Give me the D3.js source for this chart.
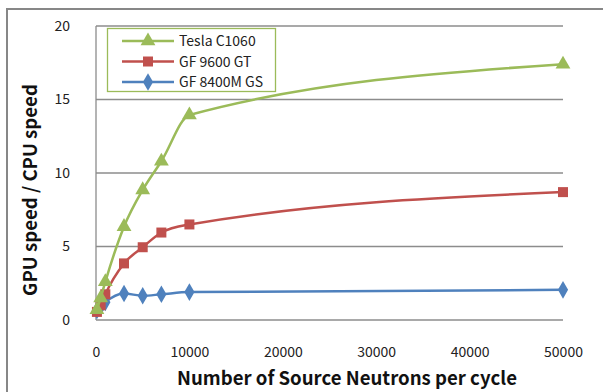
<!DOCTYPE html>
<html>
<head>
<meta charset="utf-8">
<script src="https://cdn.jsdelivr.net/npm/d3@7"></script>
<style>
  body { margin: 0; background: #fff; }
  svg { display: block; font-family: "Noto Sans CJK KR", "Noto Sans", sans-serif; }
</style>
</head>
<body>
<svg width="603" height="392"></svg>
<script>
// source neutrons per cycle
let neutrons = [100, 500, 1000, 3000, 5000, 7000, 10000, 50000]
let tesla = [0.7, 1.5, 2.6, 6.35, 8.85, 10.8, 13.95, 17.4]
let gf9600 = [0.55, 1.0, 1.75, 3.85, 4.95, 5.95, 6.5, 8.7]
let gf8400 = [0.65, 0.9, 1.2, 1.8, 1.65, 1.75, 1.9, 2.05]
let xTicks = [0, 10000, 20000, 30000, 40000, 50000]
let yTicks = [0, 5, 10, 15, 20]
let seriesNames = ["Tesla C1060", "GF 9600 GT", "GF 8400M GS"]

let series = [
    {name: seriesNames[0], vals: tesla, color: "#9bbb59", shape: d3.symbolTriangle, size: 95},
    {name: seriesNames[1], vals: gf9600, color: "#c0504d", shape: d3.symbolSquare, size: 100},
    {name: seriesNames[2], vals: gf8400, color: "#4f81bd", shape: d3.symbolDiamond, size: 90}
]

let svg = d3.select("svg")

// outer chart frame (cut off at right and bottom)
svg.append("rect")
    .attr("x", 7).attr("y", 9)
    .attr("width", 620).attr("height", 420)
    .attr("fill", "white")
    .attr("stroke", "#878787")
    .attr("stroke-width", 2)

let pLeft = 96, pTop = 26, pRight = 563, pBottom = 320

let x = d3.scaleLinear().domain([0, 50000]).range([pLeft, pRight])
let y = d3.scaleLinear().domain([0, 20]).range([pBottom, pTop])

// gridlines
svg.append("g")
    .selectAll("line")
    .data(yTicks)
    .join("line")
    .attr("x1", pLeft).attr("x2", pRight)
    .attr("y1", d => y(d)).attr("y2", d => y(d))
    .attr("stroke", "#8c8c8c")
    .attr("stroke-width", 1.3)

svg.append("line")
    .attr("x1", pLeft).attr("x2", pLeft)
    .attr("y1", pTop).attr("y2", pBottom)
    .attr("stroke", "#8c8c8c")
    .attr("stroke-width", 1.3)

// y axis labels
let yAxis = svg.append("g")
    .attr("transform", "translate(" + pLeft + ",0)")
    .call(d3.axisLeft(y).tickValues(yTicks).tickSize(0).tickPadding(26))
yAxis.select(".domain").remove()
yAxis.selectAll("text").attr("font-size", "14px").attr("fill", "#222")
    .style("font-family", "'Noto Sans CJK KR', sans-serif")

// x axis labels
let xAxis = svg.append("g")
    .attr("transform", "translate(0," + pBottom + ")")
    .call(d3.axisBottom(x).tickValues(xTicks).tickFormat(d3.format("d")).tickSize(0).tickPadding(27))
xAxis.select(".domain").remove()
xAxis.selectAll("text").attr("font-size", "14px").attr("fill", "#222")
    .style("font-family", "'Noto Sans CJK KR', sans-serif")

// axis titles
svg.append("text")
    .attr("x", 347).attr("y", 385)
    .attr("text-anchor", "middle")
    .attr("font-size", "18.6px")
    .attr("font-weight", "bold")
    .attr("fill", "#111")
    .text("Number of Source Neutrons per cycle")

svg.append("text")
    .attr("transform", "translate(37," + 190 + ") rotate(-90)")
    .attr("text-anchor", "middle")
    .attr("font-size", "18.6px")
    .attr("font-weight", "bold")
    .attr("fill", "#111")
    .text("GPU speed / CPU speed")

let line = d3.line()
    .x((d, i) => x(neutrons[i]))
    .y(d => y(d))
    .curve(d3.curveMonotoneX)

// draw blue first so green stays on top at the left
let order = [2, 1, 0]
order.forEach(k => {
    let s = series[k]
    svg.append("path")
        .datum(s.vals)
        .attr("fill", "none")
        .attr("stroke", s.color)
        .attr("stroke-width", 2.5)
        .attr("d", line)
    svg.append("g")
        .selectAll("path")
        .data(s.vals)
        .join("path")
        .attr("transform", (d, i) => "translate(" + x(neutrons[i]) + "," + y(d) + ")")
        .attr("d", d3.symbol().type(s.shape).size(s.size))
        .attr("fill", s.color)
})

// legend
let lg = svg.append("g")
lg.append("rect")
    .attr("x", 107.5).attr("y", 28.5)
    .attr("width", 168).attr("height", 63)
    .attr("fill", "white")
    .attr("stroke", "#9bbb59")
    .attr("stroke-width", 1.3)

series.forEach((s, i) => {
    let ly = 41 + i * 20.5
    lg.append("line")
        .attr("x1", 122).attr("x2", 174)
        .attr("y1", ly).attr("y2", ly)
        .attr("stroke", s.color)
        .attr("stroke-width", 2.5)
    lg.append("path")
        .attr("transform", "translate(148," + ly + ")")
        .attr("d", d3.symbol().type(s.shape).size(s.size))
        .attr("fill", s.color)
    lg.append("text")
        .attr("x", 179).attr("y", ly + 5)
        .attr("font-size", "14px")
        .attr("fill", "#222")
        .text(s.name)
})
</script>
</body>
</html>
